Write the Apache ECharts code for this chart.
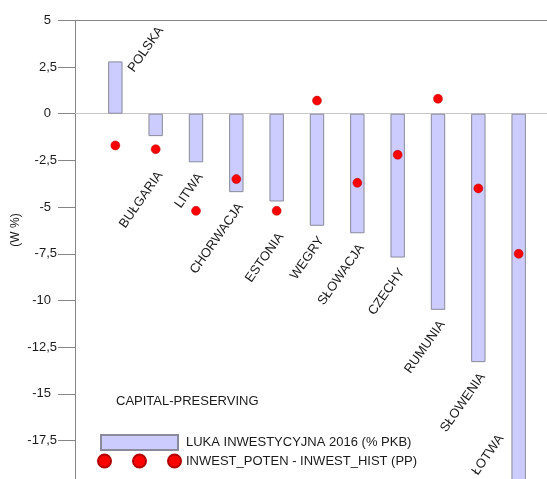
<!DOCTYPE html>
<html>
<head>
<meta charset="utf-8">
<script src="https://cdn.jsdelivr.net/npm/echarts@6/dist/echarts.min.js"></script>
<style>
html,body{margin:0;padding:0;background:#fff;}
#chart{width:547px;height:479px;}
</style>
</head>
<body>
<div id="chart"></div>
<script>
// ---- data ----
var categories = ['POLSKA','BUŁGARIA','LITWA','CHORWACJA','ESTONIA','WEGRY','SŁOWACJA','CZECHY','RUMUNIA','SŁOWENIA','ŁOTWA'];
var gapValues  = [2.8, -1.2, -2.6, -4.2, -4.7, -6.0, -6.4, -7.7, -10.5, -13.3, -20.5];
var diffValues = [-1.7, -1.9, -5.2, -3.5, -5.2, 0.7, -3.7, -2.2, 0.8, -4.0, -7.5];
var yTicks = {min: -20, max: 5, interval: 2.5};
var seriesNames = ['LUKA INWESTYCYJNA 2016 (% PKB)', 'INWEST_POTEN - INWEST_HIST (PP)'];
var titleText = 'CAPITAL-PRESERVING';
var yAxisTitle = '(W %)';

// ---- build ----
var FONT = '"Liberation Sans", Arial, sans-serif';
var TXT = '#1a1a1a';
var axisCats = [''].concat(categories).concat(['']);
var barData = gapValues.map(function(v, i){ return [i + 1, v]; });
var dotData = diffValues.map(function(v, i){ return [i + 1, v]; });
// label anchor values: bar end, moved below a dot sitting just under the bar end
var LABEL_FLOOR = -16.6;
var labelData = gapValues.map(function(v, i){
  var d = diffValues[i], a = v, flag = 0;
  if (v < 0 && d < v && v - d < 1) a = d - 0.6;
  if (a < LABEL_FLOOR) { a = LABEL_FLOOR; flag = 1; }
  return [i + 1, a, v >= 0 ? 1 : 0, flag];
});

var chart = echarts.init(document.getElementById('chart'), null, {renderer: 'canvas'});
var ROT = 55 * Math.PI / 180;
var option = {
  animation: false,
  backgroundColor: '#ffffff',
  textStyle: {fontFamily: FONT},
  grid: {left: 75, top: 20.3, width: 484, height: 467, containLabel: false, outerBoundsMode: 'none'},
  xAxis: [{
    type: 'category', data: axisCats, boundaryGap: false,
    axisLine: {onZero: true, lineStyle: {color: '#c8c8c8', width: 1}},
    axisTick: {show: false}, axisLabel: {show: false}, splitLine: {show: false}
  }, {
    type: 'category', data: axisCats, boundaryGap: false, position: 'top',
    axisLine: {onZero: false, lineStyle: {color: '#858585', width: 1}},
    axisTick: {show: false}, axisLabel: {show: false}, splitLine: {show: false}
  }],
  yAxis: {
    type: 'value', min: yTicks.min, max: yTicks.max, interval: yTicks.interval,
    axisLine: {show: true, onZero: false, lineStyle: {color: '#858585', width: 1}},
    axisTick: {show: true, length: 17, inside: false, lineStyle: {color: '#858585'}},
    splitLine: {show: false},
    axisLabel: {
      margin: 18, color: TXT, fontSize: 13, fontFamily: FONT,
      formatter: function(v){
        var s = String(v).replace('.', ',');
        return Number.isInteger(v) ? '{i|' + s + '}' : s;
      },
      rich: {i: {padding: [0, 6, 0, 0], fontSize: 13, fontFamily: FONT, color: TXT}}
    }
  },
  legend: [{
    data: [seriesNames[0]], left: 100, top: 434, padding: 0, itemWidth: 77, itemHeight: 15, icon: 'rect',
    textStyle: {fontSize: 13, color: TXT, fontFamily: FONT, padding: [0, 0, 0, 3]},
    selectedMode: false
  }, {
    data: [seriesNames[1]], left: 97, top: 453.5, padding: 0, itemWidth: 83, itemHeight: 13,
    icon: 'path://M0,6.5a6.5,6.5 0 1,0 13,0a6.5,6.5 0 1,0 -13,0zM35,6.5a6.5,6.5 0 1,0 13,0a6.5,6.5 0 1,0 -13,0zM70,6.5a6.5,6.5 0 1,0 13,0a6.5,6.5 0 1,0 -13,0z',
    textStyle: {fontSize: 13, color: TXT, fontFamily: FONT},
    selectedMode: false
  }],
  graphic: [{
    type: 'text', x: 116, y: 401,
    style: {text: titleText, font: '13px ' + FONT, fill: TXT, align: 'left', verticalAlign: 'middle'}
  }, {
    type: 'text', x: 16, y: 230, rotation: Math.PI / 2,
    style: {text: yAxisTitle, font: '12px ' + FONT, fill: TXT, align: 'center', verticalAlign: 'middle'}
  }],
  series: [{
    name: seriesNames[0], type: 'bar', data: barData, barWidth: 14.4,
    itemStyle: {color: '#ccccff', borderColor: '#8a8a9a', borderWidth: 1, borderRadius: 0},
    z: 2
  }, {
    name: seriesNames[1], type: 'scatter', data: dotData, symbol: 'circle', symbolSize: 9,
    itemStyle: {color: '#ff0000', borderColor: '#b00000', borderWidth: 0.5, opacity: 1},
    z: 4
  }, {
    name: 'labels', type: 'custom', data: labelData, clip: false, z: 5,
    renderItem: function(params, api){
      var idx = api.value(0), val = api.value(1), pos = api.value(2), flag = api.value(3);
      var c = api.coord([idx, val]);
      var txt = categories[params.dataIndex];
      if (pos) {
        return {type: 'text', x: c[0] + 21, y: c[1] + 13, rotation: ROT,
          style: {text: txt, font: '13px ' + FONT, fill: TXT, align: 'left', verticalAlign: 'bottom'}};
      }
      var dx = flag ? -23 : -1;
      return {type: 'text', x: c[0] + dx, y: c[1] + 8.6, rotation: ROT,
        style: {text: txt, font: '13px ' + FONT, fill: TXT, align: 'right', verticalAlign: 'top'}};
    }
  }]
};
chart.setOption(option);
</script>
</body>
</html>
